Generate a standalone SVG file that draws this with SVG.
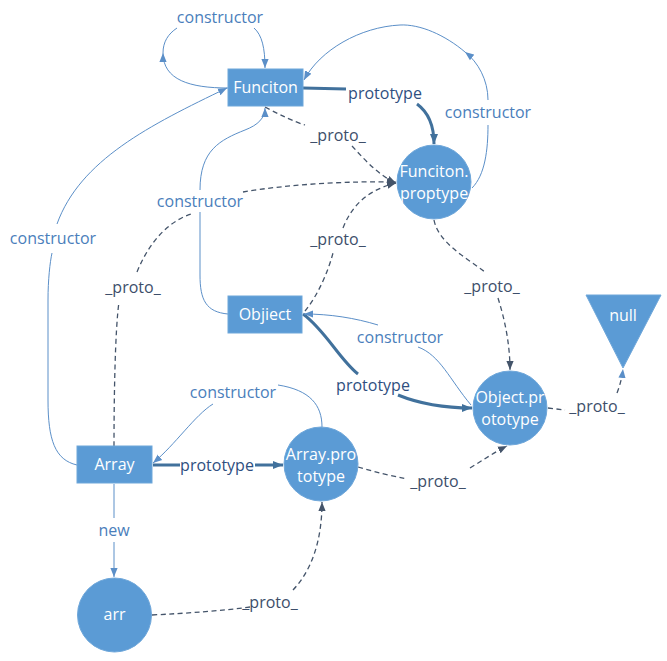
<svg xmlns="http://www.w3.org/2000/svg" width="667" height="661" viewBox="0 0 667 661">
<style>
.node{fill:#5B9BD5;stroke:#6FA7DA;stroke-width:1}
.nt{font-family:"Open Sans","Liberation Sans",sans-serif;font-size:16px;fill:#FFFFFF;text-anchor:middle}
.lb{font-family:"Open Sans","Liberation Sans",sans-serif;font-size:16px;text-anchor:middle}
.c{fill:#4A7EBB}
.p{fill:#2F4F7F}
.x{fill:#3D4E6A}
.thin{fill:none;stroke:#5B8FC8;stroke-width:1}
.thick{fill:none;stroke:#41719C;stroke-width:3}
.dash{fill:none;stroke:#44546A;stroke-width:1.3;stroke-dasharray:5,3.5}
</style>
<defs>
<marker id="aT" viewBox="0 0 10 10" refX="10" refY="5" markerWidth="9" markerHeight="9" markerUnits="userSpaceOnUse" orient="auto"><path d="M0,1 L10,5 L0,9 z" fill="#5B8FC8"/></marker>
<marker id="aK" viewBox="0 0 10 10" refX="10" refY="5" markerWidth="10" markerHeight="10" markerUnits="userSpaceOnUse" orient="auto"><path d="M0,1 L10,5 L0,9 z" fill="#41719C"/></marker>
<marker id="aD" viewBox="0 0 10 10" refX="10" refY="5" markerWidth="9" markerHeight="9" markerUnits="userSpaceOnUse" orient="auto"><path d="M0,1 L10,5 L0,9 z" fill="#44546A"/></marker>
</defs>
<g id="connectors">
<path class="thin" d="M228,88 C190,88 163,80 163,53" marker-end="url(#aT)"/>
<path class="thin" d="M177,28 C168,34 163,42 163,53"/>
<path class="thin" d="M254,28 C262,35 265,48 265,68" marker-end="url(#aT)"/>
<path class="thick" d="M303,88 L346,89"/>
<path class="thick" d="M417,104 C428,112 434,125 434,144" marker-end="url(#aK)"/>
<path class="thin" d="M472,188 C485,175 488,150 488,125"/>
<path class="thin" d="M488,100 C488,80 478,62 465,52" marker-end="url(#aT)"/>
<path class="thin" d="M465,52 C445,35 420,24 400,25 C360,27 320,50 304,80" marker-end="url(#aT)"/>
<path class="dash" d="M265,107 C280,115 295,122 305,125"/>
<path class="dash" d="M352,146 C365,160 378,175 396,183" marker-end="url(#aD)"/>
<path class="thin" d="M228,314 C206,312 200,300 200,275 L200,212"/>
<path class="thin" d="M200,190 C200,150 220,140 245,130 C258,125 265,118 265,108" marker-end="url(#aT)"/>
<path class="dash" d="M114,446 C114,400 115,330 119,302"/>
<path class="dash" d="M137,272 C150,240 170,220 194,213"/>
<path class="dash" d="M243,192 C290,184 350,181 396,182" marker-end="url(#aD)"/>
<path class="dash" d="M305,311 C318,295 328,272 333,253"/>
<path class="dash" d="M343,228 C352,205 368,190 396,183" marker-end="url(#aD)"/>
<path class="thick" d="M303,314 C325,330 340,360 358,374"/>
<path class="thick" d="M398,395 C420,404 445,408 472,408" marker-end="url(#aK)"/>
<path class="thin" d="M471,405 C450,380 440,355 418,347"/>
<path class="thin" d="M378,325 C355,318 330,314 304,314" marker-end="url(#aT)"/>
<path class="dash" d="M434,220 C438,242 465,257 485,272"/>
<path class="dash" d="M498,298 C505,320 510,345 510,370" marker-end="url(#aD)"/>
<path class="dash" d="M548,408 L565,410"/>
<path class="dash" d="M617,393 C620,385 622,378 623,369" marker-end="url(#aT)"/>
<path class="thick" d="M153,465 L180,465"/>
<path class="thick" d="M255,465 L283,465" marker-end="url(#aK)"/>
<path class="thin" d="M322,427 C322,405 310,390 278,385"/>
<path class="thin" d="M213,404 C195,415 175,445 153,463" marker-end="url(#aT)"/>
<path class="thin" d="M77,465 C55,460 48,440 48,400 L48,300 C48,280 50,262 52,253"/>
<path class="thin" d="M57,224 C80,160 150,125 227,88" marker-end="url(#aT)"/>
<path class="thin" d="M114,484 L114,518"/>
<path class="thin" d="M114,542 L114,577" marker-end="url(#aT)"/>
<path class="dash" d="M152,615 C190,613 220,611 250,607"/>
<path class="dash" d="M293,590 C312,570 322,540 322,502" marker-end="url(#aD)"/>
<path class="dash" d="M358,467 C375,472 392,476 407,479"/>
<path class="dash" d="M470,468 C483,460 495,452 507,446" marker-end="url(#aD)"/>
<text class="lb c" x="220" y="23">constructor</text>
<text class="lb p" x="385" y="99">prototype</text>
<text class="lb c" x="488" y="118">constructor</text>
<text class="lb x" x="338" y="141">_proto_</text>
<text class="lb c" x="200" y="207">constructor</text>
<text class="lb c" x="53" y="244">constructor</text>
<text class="lb x" x="133" y="293">_proto_</text>
<text class="lb x" x="338" y="245">_proto_</text>
<text class="lb x" x="492" y="292">_proto_</text>
<text class="lb c" x="400" y="343">constructor</text>
<text class="lb p" x="373" y="391">prototype</text>
<text class="lb x" x="597" y="412">_proto_</text>
<text class="lb c" x="233" y="398">constructor</text>
<text class="lb p" x="217" y="471">prototype</text>
<text class="lb c" x="114" y="536">new</text>
<text class="lb x" x="270" y="608">_proto_</text>
<text class="lb x" x="438" y="487">_proto_</text>
</g>
<g id="funciton"><rect class="node" x="228" y="69" width="75" height="37"/><text class="nt" x="265.5" y="93">Funciton</text></g>
<g id="funciton-prototype"><circle class="node" cx="434" cy="182" r="37"/><text class="nt" x="434" y="177">Funciton.</text><text class="nt" x="434" y="199">proptype</text></g>
<g id="objiect"><rect class="node" x="228" y="296" width="74" height="37"/><text class="nt" x="265" y="320">Objiect</text></g>
<g id="object-prototype"><circle class="node" cx="510" cy="408" r="37"/><text class="nt" x="510" y="403">Object.pr</text><text class="nt" x="510" y="425">ototype</text></g>
<g id="null"><polygon class="node" points="586,295 661,295 623,368"/><text class="nt" x="623" y="321">null</text></g>
<g id="array"><rect class="node" x="77" y="446" width="75" height="37"/><text class="nt" x="114.5" y="470">Array</text></g>
<g id="array-prototype"><circle class="node" cx="321" cy="464" r="37"/><text class="nt" x="321" y="460">Array.pro</text><text class="nt" x="321" y="482">totype</text></g>
<g id="arr"><circle class="node" cx="114.5" cy="615" r="37"/><text class="nt" x="114.5" y="620">arr</text></g>
</svg>
